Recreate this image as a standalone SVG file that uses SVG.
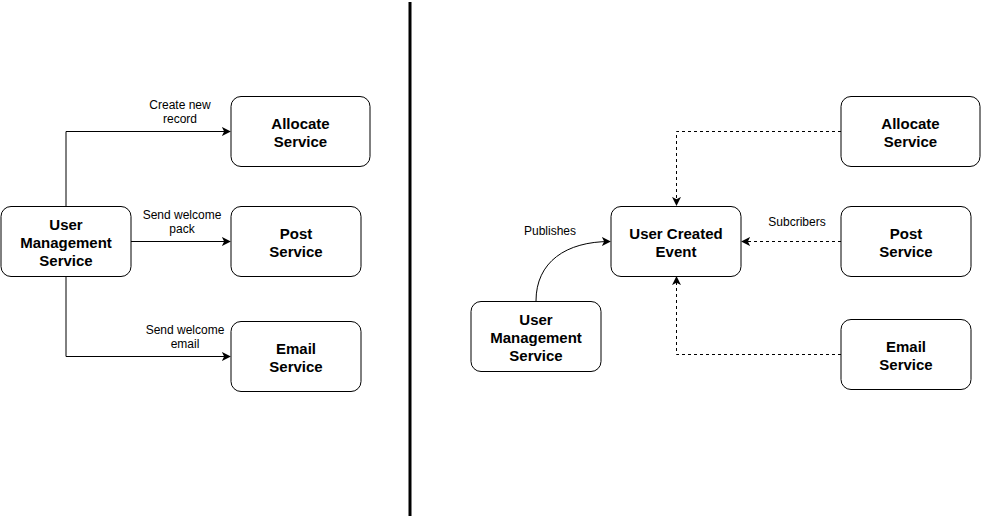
<svg xmlns="http://www.w3.org/2000/svg" width="981" height="519" viewBox="0 0 981 519">
<style>
.node rect{fill:#fff;stroke:#000;stroke-width:1}
.node text{font-family:"Liberation Sans",Arial,sans-serif;font-size:15px;font-weight:bold;fill:#000;text-anchor:middle}
.edge{fill:none;stroke:#000;stroke-width:1}
.dash{stroke-dasharray:3 3}
.lbl{font-family:"Liberation Sans",Arial,sans-serif;font-size:12px;fill:#000;text-anchor:middle}
</style>
<defs>
<marker id="arr" viewBox="0 0 10 10" refX="9" refY="5" markerWidth="9" markerHeight="9" markerUnits="userSpaceOnUse" orient="auto">
<path d="M0,0 L10,5 L0,10 L2.5,5 Z" fill="#000"/>
</marker>
</defs>
<rect width="981" height="519" fill="#fff"/>
<line x1="410" y1="2" x2="410" y2="516" stroke="#000" stroke-width="3"/>
<g id="connectors">
<path class="edge" d="M66,206 V131.5 H230" marker-end="url(#arr)"/>
<path class="edge" d="M131,241.5 H230" marker-end="url(#arr)"/>
<path class="edge" d="M66,276 V356.5 H230" marker-end="url(#arr)"/>
<path class="edge dash" d="M841,131.5 H676.5 V205" marker-end="url(#arr)"/>
<path class="edge dash" d="M841,241.5 H742" marker-end="url(#arr)"/>
<path class="edge dash" d="M841,354.5 H676.5 V277" marker-end="url(#arr)"/>
<path class="edge" d="M536,301 C536,262 566,241.5 610,241.5" marker-end="url(#arr)"/>
<text class="lbl" x="180" y="109">Create new</text>
<text class="lbl" x="180" y="123">record</text>
<text class="lbl" x="182" y="219">Send welcome</text>
<text class="lbl" x="182" y="233">pack</text>
<text class="lbl" x="185" y="334">Send welcome</text>
<text class="lbl" x="185" y="348">email</text>
<text class="lbl" x="797" y="226">Subcribers</text>
<text class="lbl" x="550" y="235">Publishes</text>
</g>
<g id="left-ums" class="node"><rect x="1" y="206.5" width="130" height="70" rx="10"/><text x="66" y="230">User</text><text x="66" y="248">Management</text><text x="66" y="266">Service</text></g>
<g id="left-allocate" class="node"><rect x="231" y="96.5" width="139" height="70" rx="10"/><text x="300.5" y="129">Allocate</text><text x="300.5" y="147">Service</text></g>
<g id="left-post" class="node"><rect x="231" y="206.5" width="130" height="70" rx="10"/><text x="296" y="239">Post</text><text x="296" y="257">Service</text></g>
<g id="left-email" class="node"><rect x="231" y="321.5" width="130" height="70" rx="10"/><text x="296" y="354">Email</text><text x="296" y="372">Service</text></g>
<g id="event" class="node"><rect x="611" y="206.5" width="130" height="70" rx="10"/><text x="676" y="239">User Created</text><text x="676" y="257">Event</text></g>
<g id="right-allocate" class="node"><rect x="841" y="96.5" width="139" height="70" rx="10"/><text x="910.5" y="129">Allocate</text><text x="910.5" y="147">Service</text></g>
<g id="right-post" class="node"><rect x="841" y="206.5" width="130" height="70" rx="10"/><text x="906" y="239">Post</text><text x="906" y="257">Service</text></g>
<g id="right-email" class="node"><rect x="841" y="319.5" width="130" height="70" rx="10"/><text x="906" y="352">Email</text><text x="906" y="370">Service</text></g>
<g id="right-ums" class="node"><rect x="471" y="301.5" width="130" height="70" rx="10"/><text x="536" y="325">User</text><text x="536" y="343">Management</text><text x="536" y="361">Service</text></g>
</svg>
